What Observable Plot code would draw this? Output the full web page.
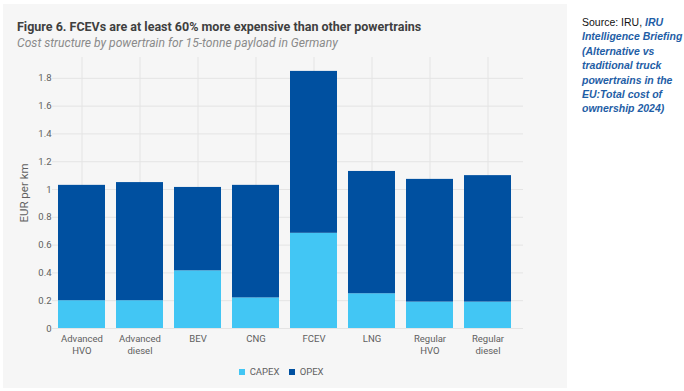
<!DOCTYPE html>
<html>
<head>
<meta charset="utf-8">
<script src="https://cdn.jsdelivr.net/npm/d3@7"></script>
<script src="https://cdn.jsdelivr.net/npm/@observablehq/plot@0.6"></script>
<style>
  html, body { margin: 0; padding: 0; background: #ffffff; width: 684px; height: 391px; overflow: hidden; }
  #panel { position: absolute; left: 3px; top: 4px; width: 564px; height: 384px; background: #f6f6f6; }
  #chart { position: absolute; left: 0; top: 0; }
  #title { position: absolute; left: 17px; top: 19px; font-family: Roboto, sans-serif; font-weight: bold; font-size: 12.5px; color: #3f3f3f; white-space: nowrap; }
  #subtitle { position: absolute; left: 17px; top: 36px; font-family: Roboto, sans-serif; font-style: italic; font-size: 12.1px; color: #8a8a8a; white-space: nowrap; }
  #legend { position: absolute; left: 0; width: 572px; top: 355px; display: flex; justify-content: center; }
  #source { position: absolute; left: 582px; top: 15px; font-family: "Liberation Sans", Arial, sans-serif; font-size: 10.5px; line-height: 14.4px; color: #111; }
  #source b { color: #1f5ea6; font-style: italic; }
</style>
</head>
<body>
<div id="panel"></div>
<div id="chart"></div>
<div id="title">Figure 6. FCEVs are at least 60% more expensive than other powertrains</div>
<div id="subtitle">Cost structure by powertrain for 15-tonne payload in Germany</div>
<div id="legend"></div>
<div id="source">Source: IRU, <b>IRU<br>Intelligence Briefing<br>(Alternative vs<br>traditional truck<br>powertrains in the<br>EU:Total cost of<br>ownership 2024)</b></div>
<script>
const categories = ["Advanced HVO", "Advanced diesel", "BEV", "CNG", "FCEV", "LNG", "Regular HVO", "Regular diesel"];
const tickLabels = ["Advanced\nHVO", "Advanced\ndiesel", "BEV", "CNG", "FCEV", "LNG", "Regular\nHVO", "Regular\ndiesel"];
const series = ["CAPEX", "OPEX"];
const colors = ["#42c6f4", "#0050a0"];
const capex = [0.20, 0.20, 0.415, 0.22, 0.685, 0.25, 0.19, 0.19];
const total = [1.03, 1.05, 1.015, 1.03, 1.85, 1.13, 1.073, 1.10];
const opex = total.map((t, i) => +(t - capex[i]).toFixed(3));
const yTicks = [0, 0.2, 0.4, 0.6, 0.8, 1, 1.2, 1.4, 1.6, 1.8];

const data = [];
categories.forEach((c, i) => {
  data.push({type: c, component: "CAPEX", value: capex[i]});
  data.push({type: c, component: "OPEX", value: opex[i]});
});

const labelMap = new Map(categories.map((c, i) => [c, tickLabels[i]]));

const plot = Plot.plot({
  width: 567,
  height: 388,
  marginLeft: 52,
  marginRight: 44,
  marginTop: 57,
  marginBottom: 60,
  style: { background: "transparent", fontFamily: "Roboto, sans-serif", fontSize: "9.5px", color: "#606060" },
  x: { domain: categories, range: [51.5, 517.5], paddingInner: 0.19, paddingOuter: 0.095, label: null },
  y: { domain: [0, 1.95], label: null },
  color: { domain: series, range: colors },
  marks: [
    Plot.ruleY(yTicks, { stroke: "#e4e4e4", strokeWidth: 1 }),
    Plot.gridX({ stroke: "#e4e4e4", strokeOpacity: 1 }),
    Plot.barY(data, { x: "type", y: "value", fill: "component", order: series }),
    Plot.axisX({ tickSize: 0, tickPadding: 5, tickFormat: d => labelMap.get(d), lineHeight: 1.25, fontSize: 9.5 }),
    Plot.axisY({ ticks: yTicks, tickSize: 0, tickPadding: 1, tickFormat: d => String(+d.toFixed(1)), label: null }),
    Plot.text(["EUR per km"], { frameAnchor: "left", dx: -28, rotate: -90, textAnchor: "middle", fontSize: 11.5, fill: "#606060" })
  ]
});
document.getElementById("chart").appendChild(plot);

const leg = Plot.legend({
  color: { domain: series, range: colors },
  legend: "swatches",
  swatchSize: 6,
  style: { fontFamily: "Roboto, sans-serif", fontSize: "9.5px", color: "#606060", background: "transparent" }
});
document.getElementById("legend").appendChild(leg);
</script>
</body>
</html>
